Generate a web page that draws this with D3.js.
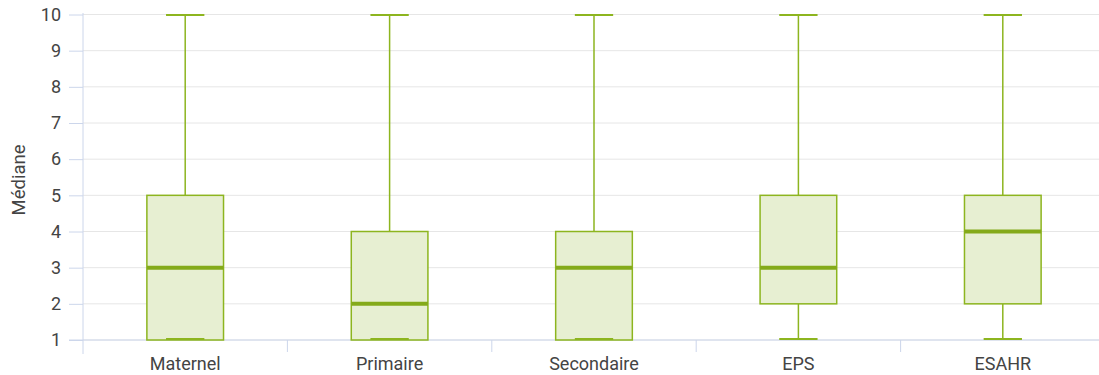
<!DOCTYPE html>
<html><head><meta charset="utf-8">
<script src="https://cdn.jsdelivr.net/npm/d3@7"></script>
<style>body{margin:0;background:#fff;font-family:Roboto,sans-serif;}</style>
</head><body><svg id="c" width="1099" height="375"></svg>
<script>
const categories = ["Maternel","Primaire","Secondaire","EPS","ESAHR"];
const lows    = [1,1,1,1,1];
const q1s     = [1,1,1,2,2];
const medians = [3,2,3,3,4];
const q3s     = [5,4,4,5,5];
const highs   = [10,10,10,10,10];
const yTicks  = [1,2,3,4,5,6,7,8,9,10];
const yTitle  = "Médiane";

const svg = d3.select("#c");
const mLeft = 83, mRight = 1105, mTop = 14.5, mBottom = 340;
const x = d3.scaleBand().domain(categories).range([mLeft,mRight]);
const y = d3.scaleLinear().domain([1,10]).range([mBottom,mTop]);
const stroke = "#8db51f", fill = "#e7efd2", axisC = "#ccd6eb", textC = "#444";

// gridlines
svg.append("g").selectAll("line").data(yTicks).join("line")
  .attr("x1",mLeft).attr("x2",1099)
  .attr("y1",d=>y(d)).attr("y2",d=>y(d))
  .attr("stroke","#e6e6e6").attr("stroke-width",1);

// y axis
const ya = svg.append("g").attr("transform",`translate(${mLeft},0)`)
  .call(d3.axisLeft(y).tickValues(yTicks).tickSize(14).tickPadding(8).tickFormat(d3.format("d")));
ya.select(".domain").remove();
ya.selectAll(".tick line").attr("stroke",axisC);
ya.selectAll("text").attr("font-family","Roboto").attr("font-size",18).attr("fill",textC);
svg.append("line").attr("x1",mLeft).attr("x2",mLeft).attr("y1",13).attr("y2",354).attr("stroke",axisC);

// x axis
svg.append("line").attr("x1",69).attr("x2",1099).attr("y1",mBottom).attr("y2",mBottom).attr("stroke",axisC);
svg.append("g").selectAll("line").data(categories.slice(1)).join("line")
  .attr("x1",d=>x(d)).attr("x2",d=>x(d)).attr("y1",mBottom).attr("y2",352).attr("stroke",axisC);
svg.append("g").selectAll("text").data(categories).join("text")
  .attr("x",d=>x(d)+x.bandwidth()/2).attr("y",370)
  .attr("text-anchor","middle").attr("font-family","Roboto").attr("font-size",18).attr("fill",textC)
  .text(d=>d);

// y title
svg.append("text").attr("transform","translate(25,180) rotate(-90)")
  .attr("text-anchor","middle").attr("font-family","Roboto").attr("font-size",18.5).attr("fill",textC)
  .text(yTitle);

// boxes
const bw = x.bandwidth()*0.375, cw = bw/2;
const g = svg.append("g").selectAll("g").data(categories).join("g")
  .attr("transform",d=>`translate(${x(d)+x.bandwidth()/2},0)`);
g.append("line").attr("x1",0).attr("x2",0).attr("y1",(d,i)=>y(highs[i])).attr("y2",(d,i)=>y(q3s[i]))
  .attr("stroke",stroke).attr("stroke-width",1.5);
g.append("line").attr("x1",0).attr("x2",0).attr("y1",(d,i)=>y(q1s[i])).attr("y2",(d,i)=>y(lows[i]))
  .attr("stroke",stroke).attr("stroke-width",1.5);
g.append("rect").attr("x",-bw/2).attr("width",bw)
  .attr("y",(d,i)=>y(q3s[i])).attr("height",(d,i)=>y(q1s[i])-y(q3s[i]))
  .attr("fill",fill).attr("stroke",stroke).attr("stroke-width",1.5);
g.append("line").attr("x1",-cw/2).attr("x2",cw/2).attr("y1",(d,i)=>y(highs[i])+0.5).attr("y2",(d,i)=>y(highs[i])+0.5)
  .attr("stroke",stroke).attr("stroke-width",2);
g.append("line").attr("x1",-cw/2).attr("x2",cw/2).attr("y1",(d,i)=>y(lows[i])-1).attr("y2",(d,i)=>y(lows[i])-1)
  .attr("stroke",stroke).attr("stroke-width",2);
g.append("line").attr("x1",-bw/2).attr("x2",bw/2).attr("y1",(d,i)=>y(medians[i])).attr("y2",(d,i)=>y(medians[i]))
  .attr("stroke","#84aa1a").attr("stroke-width",4);
</script></body></html>
